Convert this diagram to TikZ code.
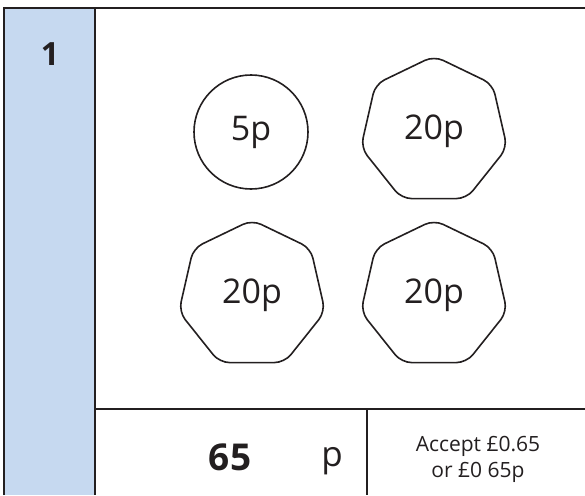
\documentclass[tikz,border=0pt]{standalone}
\usepackage{fontspec}
\setmainfont{Open Sans}
\usetikzlibrary{shapes.geometric}
\definecolor{qblue}{HTML}{C6D9F0}
\definecolor{ink}{HTML}{231F20}
\begin{document}
\begin{tikzpicture}[x=1pt,y=-1pt,
  frame/.style={draw=ink,line width=1.8pt},
  coin/.style={draw=ink,line width=1.6pt,inner sep=0pt,font=\fontsize{34}{36}\selectfont,text=ink},
  hepta/.style={coin,regular polygon,regular polygon sides=7,minimum size=150pt,rounded corners=10pt},
  round/.style={coin,circle,minimum size=114pt}]
\useasboundingbox (0,0) rectangle (585,495);
\fill[qblue] (4,8) rectangle (95,495);
\coordinate (tl) at (4,8);
\coordinate (tr) at (585,8);
\coordinate (bl) at (4,495);
\coordinate (ct) at (95,8);
\coordinate (cb) at (95,495);
\coordinate (ml) at (95,409);
\coordinate (mr) at (585,409);
\coordinate (dt) at (367,409);
\coordinate (db) at (367,495);
\draw[frame] (bl) -- (tl) -- (tr);
\draw[frame] (ct) -- (cb);
\draw[frame] (ml) -- (mr);
\draw[frame] (dt) -- (db);
\node[font=\bfseries\fontsize{32}{34}\selectfont,text=ink] (num) at (50,54) {1};
\node[round] (c5) at (251,132) {5p};
\node[hepta] (h1) at (434,131) {20p};
\node[hepta] (h2) at (252,295) {20p};
\node[hepta] (h3) at (434,295) {20p};
\node[font=\bfseries\fontsize{37}{40}\selectfont,text=ink] (ans) at (230,457) {65};
\node[font=\fontsize{35}{38}\selectfont,text=ink,anchor=base] (unit) at (332,466) {p};
\node[font=\fontsize{21}{26}\selectfont,text=ink,align=center] (note) at (478,459) {Accept £0.65\\or £0 65p};
\end{tikzpicture}
\end{document}
